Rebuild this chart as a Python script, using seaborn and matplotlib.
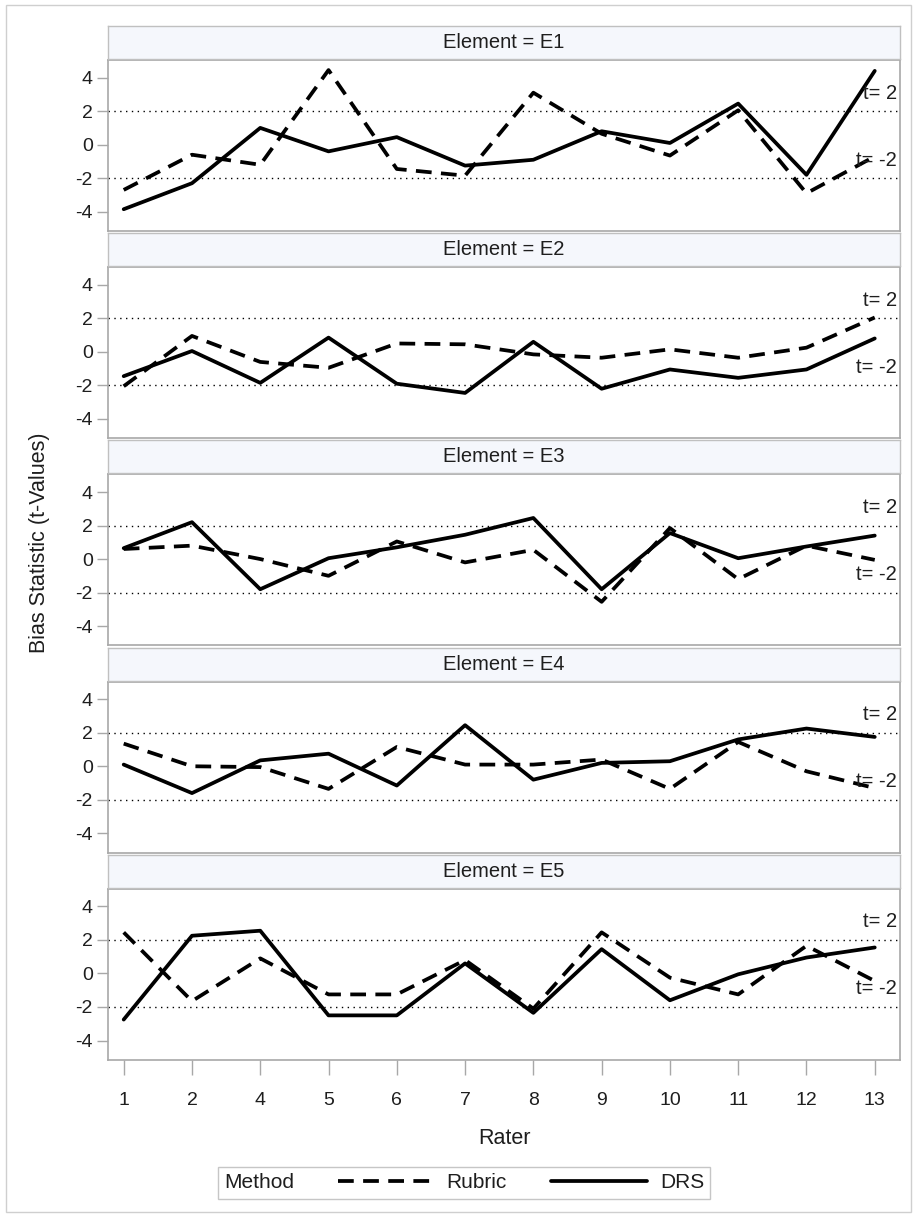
import numpy as np
import pandas as pd
import matplotlib
matplotlib.use("Agg")
import matplotlib.pyplot as plt
import matplotlib.transforms as mtransforms
from matplotlib.lines import Line2D
from matplotlib.patches import Rectangle
import seaborn as sns

# ---------------- data ----------------
raters = ['1', '2', '4', '5', '6', '7', '8', '9', '10', '11', '12', '13']
elements = ['E1', 'E2', 'E3', 'E4', 'E5']
methods = ['Rubric', 'DRS']

e1_rubric = [-2.7, -0.6, -1.2, 4.45, -1.45, -1.85, 3.1, 0.65, -0.65, 2.05, -2.9, -0.7]
e1_drs = [-3.85, -2.3, 1.0, -0.4, 0.45, -1.25, -0.9, 0.8, 0.1, 2.45, -1.8, 4.4]

e2_rubric = [-2.05, 0.95, -0.6, -0.95, 0.5, 0.45, -0.15, -0.35, 0.15, -0.35, 0.25, 2.05]
e2_drs = [-1.45, 0.05, -1.85, 0.85, -1.9, -2.45, 0.6, -2.2, -1.05, -1.55, -1.05, 0.8]

e3_rubric = [0.6, 0.8, 0.0, -1.0, 1.05, -0.2, 0.55, -2.55, 1.85, -1.2, 0.8, -0.05]
e3_drs = [0.65, 2.2, -1.8, 0.05, 0.7, 1.45, 2.45, -1.8, 1.55, 0.05, 0.75, 1.4]

e4_rubric = [1.35, 0.0, -0.05, -1.35, 1.15, 0.1, 0.1, 0.4, -1.35, 1.45, -0.3, -1.3]
e4_drs = [0.1, -1.6, 0.35, 0.75, -1.15, 2.45, -0.8, 0.2, 0.3, 1.6, 2.25, 1.75]

e5_rubric = [2.45, -1.65, 0.9, -1.25, -1.25, 0.8, -2.1, 2.45, -0.25, -1.25, 1.65, -0.45]
e5_drs = [-2.75, 2.25, 2.55, -2.5, -2.5, 0.6, -2.35, 1.45, -1.6, -0.05, 0.95, 1.55]

ref_values = [2, -2]
ref_labels = ['t= 2', 't= -2']
y_ticks = [-4, -2, 0, 2, 4]

series = {
    'E1': (e1_rubric, e1_drs),
    'E2': (e2_rubric, e2_drs),
    'E3': (e3_rubric, e3_drs),
    'E4': (e4_rubric, e4_drs),
    'E5': (e5_rubric, e5_drs),
}

rows = []
for el in elements:
    rub, drs = series[el]
    for r, v in zip(raters, rub):
        rows.append({'Element': el, 'Rater': r, 'Method': 'Rubric', 't': v})
    for r, v in zip(raters, drs):
        rows.append({'Element': el, 'Rater': r, 'Method': 'DRS', 't': v})
df = pd.DataFrame(rows)

# ---------------- style ----------------
sns.set_theme(style='white')
plt.rcParams['font.family'] = ['Liberation Sans', 'DejaVu Sans']
plt.rcParams['axes.unicode_minus'] = False

W, H = 914, 1218
fig = plt.figure(figsize=(W / 100, H / 100), dpi=100)
fig.patch.set_facecolor('white')

def fx(px):
    return px / W

def fy(px):
    return 1 - px / H

txt_col = '#1E1E1E'
spine_col = '#A8A8A8'
LW = 2.7
dash_pat = (4.2, 2.5)
dashes = {'Rubric': dash_pat, 'DRS': ''}

# outer frame
fig.patches.append(Rectangle((fx(6), fy(1212)), fx(911) - fx(6), fy(5) - fy(1212),
                             transform=fig.transFigure, fill=False,
                             edgecolor='#CFCFCF', linewidth=1.0))

left, right = 108, 900
panel_step = 207.2
plot_h = 171
strip_h = 33

for i, el in enumerate(elements):
    top = 60 + i * panel_step
    bot = top + plot_h
    ax = fig.add_axes([fx(left), fy(bot), fx(right) - fx(left), fy(top) - fy(bot)])
    sax = fig.add_axes([fx(left), fy(top - 1), fx(right) - fx(left), fy(top - 1 - strip_h) - fy(top - 1)])

    sub = df[df['Element'] == el]
    sns.lineplot(data=sub, x='Rater', y='t', style='Method', style_order=methods,
                 dashes=dashes, color='black', linewidth=LW, sort=False,
                 legend=False, ax=ax)

    for rv, rl in zip(ref_values, ref_labels):
        ax.axhline(rv, color='black', linewidth=1.0, linestyle=(0, (1, 3.2)))
        trans = mtransforms.blended_transform_factory(ax.transAxes, ax.transData)
        ax.text(0.996, rv + 1.08, rl, transform=trans, ha='right', va='center',
                fontsize=14.5, color=txt_col)

    ax.set_ylim(-5.15, 5.05)
    ax.set_xlim(-0.23, 11.37)
    ax.set_yticks(y_ticks)
    ax.set_yticklabels([str(t) for t in y_ticks], fontsize=14, color=txt_col)
    ax.tick_params(axis='y', which='both', left=True, length=8, width=1,
                   color=spine_col, pad=3)
    ax.set_ylabel('')
    ax.set_xlabel('')
    for s in ax.spines.values():
        s.set_color(spine_col)
        s.set_linewidth(1.2)
    if i < len(elements) - 1:
        ax.set_xticks([])
    else:
        ax.tick_params(axis='x', which='both', bottom=True, length=11, width=1,
                       color=spine_col, pad=12, labelsize=14, labelcolor=txt_col)

    # strip header
    sax.set_facecolor('#F5F7FC')
    sax.set_xticks([])
    sax.set_yticks([])
    for s in sax.spines.values():
        s.set_color('#C0C0C0')
        s.set_linewidth(1.0)
    sax.text(0.5, 0.5, f'Element = {el}', transform=sax.transAxes, ha='center',
             va='center', fontsize=14.5, color=txt_col)

# axis titles
fig.text(fx(40), fy(543), 'Bias Statistic (t-Values)', rotation=90, ha='center',
         va='center', fontsize=15.5, color=txt_col)
fig.text(fx(504), fy(1138), 'Rater', ha='center', va='center', fontsize=15.5,
         color=txt_col)

# legend
handles = [Line2D([0], [0], color='black', lw=LW, dashes=dash_pat),
           Line2D([0], [0], color='black', lw=LW)]
leg = fig.legend(handles, methods, title='Method', ncol=2, loc='center',
                 bbox_to_anchor=(fx(464), fy(1183)), frameon=True, fancybox=False,
                 fontsize=15, title_fontsize=15, handlelength=4.6,
                 handletextpad=0.6, columnspacing=0.5, borderpad=0.3,
                 borderaxespad=0)
leg.get_frame().set_edgecolor('#B8B8B8')
leg.get_frame().set_linewidth(1.0)
for t in leg.get_texts():
    t.set_color(txt_col)
leg.get_title().set_color(txt_col)
# put the legend title on the left of the entries
title_box = leg._legend_box._children[0]
handle_box = leg._legend_box._children[1]
leg._legend_box._children.remove(title_box)
handle_box._children.insert(0, title_box)
handle_box.sep = 32

fig.savefig('out.png', dpi=100, facecolor='white')
